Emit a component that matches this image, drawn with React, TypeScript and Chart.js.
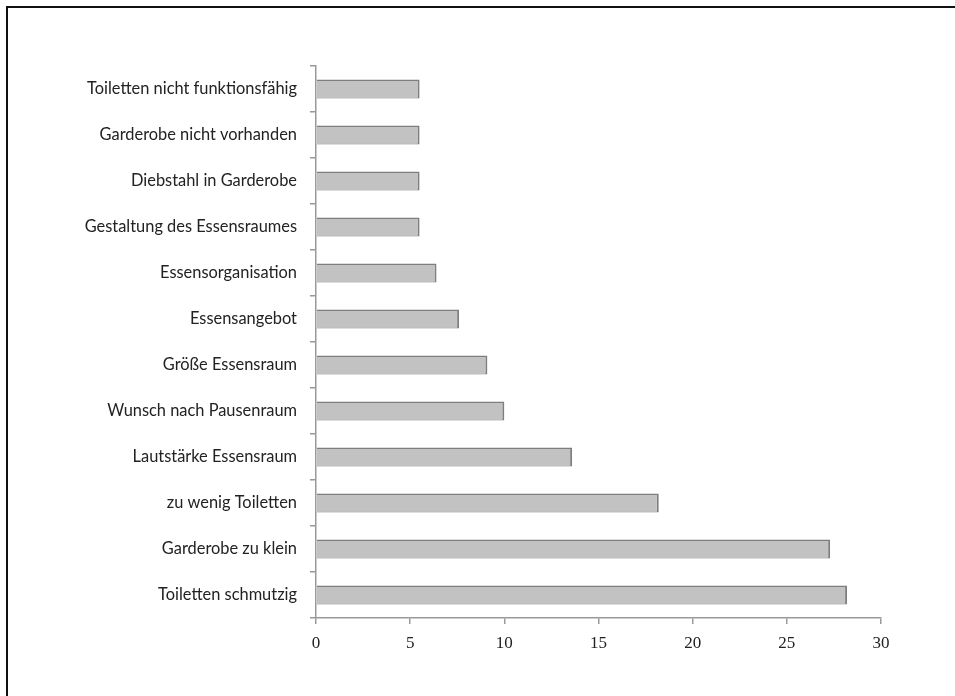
import React, { useEffect, useRef } from "react";
import { Chart, registerables } from "chart.js";

Chart.register(...registerables);

const categories: string[] = [
  "Toiletten nicht funktionsfähig",
  "Garderobe nicht vorhanden",
  "Diebstahl in Garderobe",
  "Gestaltung des Essensraumes",
  "Essensorganisation",
  "Essensangebot",
  "Größe Essensraum",
  "Wunsch nach Pausenraum",
  "Lautstärke Essensraum",
  "zu wenig Toiletten",
  "Garderobe zu klein",
  "Toiletten schmutzig",
];

const values: number[] = [5.5, 5.5, 5.5, 5.5, 6.4, 7.6, 9.1, 10.0, 13.6, 18.2, 27.3, 28.2];

const xMin = 0;
const xMax = 30;
const xStep = 5;

export default function App() {
  const canvasRef = useRef<HTMLCanvasElement | null>(null);

  useEffect(() => {
    if (!canvasRef.current) return;
    const chart = new Chart(canvasRef.current, {
      type: "bar",
      data: {
        labels: categories,
        datasets: [
          {
            data: values,
            backgroundColor: "#c2c2c2",
            borderColor: "#7e7e7e",
            borderWidth: { top: 1.5, right: 2, bottom: 1, left: 0 },
            borderSkipped: false,
            categoryPercentage: 1,
            barPercentage: 0.41,
          },
        ],
      },
      options: {
        indexAxis: "y",
        animation: false,
        responsive: false,
        maintainAspectRatio: false,
        layout: { padding: { left: 0, top: 66, right: 74, bottom: 0 } },
        plugins: {
          legend: { display: false },
          tooltip: { enabled: false },
          title: { display: false },
        },
        scales: {
          x: {
            type: "linear",
            min: xMin,
            max: xMax,
            afterFit: (scale: any) => {
              scale.height = 78;
            },
            ticks: {
              stepSize: xStep,
              color: "#222",
              padding: 9,
              font: { family: "'Liberation Serif', 'DejaVu Serif', serif", size: 17 },
            },
            grid: {
              display: true,
              drawOnChartArea: false,
              drawTicks: true,
              tickLength: 6,
              color: "#999",
              lineWidth: 1.5,
            },
            border: { display: true, color: "#999", width: 1.5 },
          },
          y: {
            type: "category",
            afterFit: (scale: any) => {
              scale.width = 316;
            },
            ticks: {
              color: "#222",
              padding: 13,
              font: { family: "Lato, 'Open Sans', sans-serif", size: 16.4 },
            },
            grid: {
              display: true,
              offset: true,
              drawOnChartArea: false,
              drawTicks: true,
              tickLength: 6,
              color: "#999",
              lineWidth: 1.5,
            },
            border: { display: true, color: "#999", width: 1.5 },
          },
        },
      },
    });
    return () => chart.destroy();
  }, []);

  return (
    <div
      style={{
        position: "fixed",
        left: 0,
        top: 0,
        width: 955,
        height: 696,
        background: "#fff",
        overflow: "hidden",
      }}
    >
      <canvas
        ref={canvasRef}
        width={955}
        height={696}
        style={{ position: "absolute", left: 0, top: 0, width: 955, height: 696 }}
      />
      <div
        style={{
          position: "absolute",
          left: 6,
          top: 6,
          width: 1000,
          height: 1000,
          borderLeft: "2px solid #111",
          borderTop: "2px solid #111",
          pointerEvents: "none",
        }}
      />
    </div>
  );
}
